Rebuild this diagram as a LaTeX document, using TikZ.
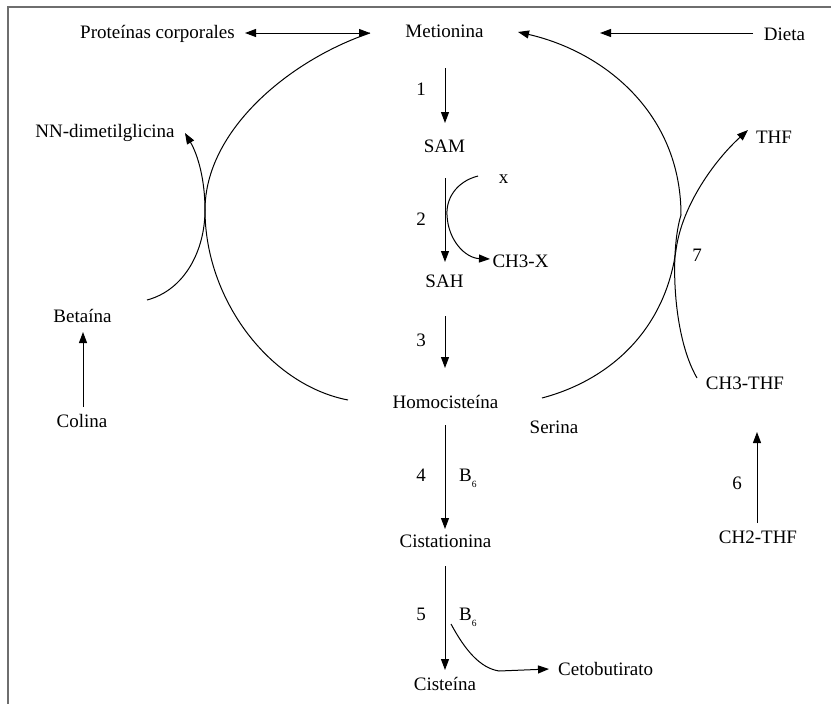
\documentclass[tikz,border=0pt]{standalone}
\usepackage{fontspec}
\setmainfont{Liberation Serif}
\usetikzlibrary{arrows.meta}
\definecolor{framegray}{HTML}{6E6E6E}
\newcommand{\bsix}{B\raisebox{-6pt}{\fontsize{9.5}{10}\selectfont 6}}
\begin{document}
\begin{tikzpicture}[x=1pt,y=-1pt,
  lbl/.style={font=\fontsize{19}{22}\selectfont, inner sep=0pt, anchor=base},
  ln/.style={line width=1pt},
  arr/.style={line width=1pt, -{Triangle[length=11pt,width=8pt]}},
  darr/.style={line width=1pt, {Triangle[length=11pt,width=8pt]}-{Triangle[length=11pt,width=8pt]}},
  frame/.style={line width=2pt, draw=framegray}]
\useasboundingbox (0,0) rectangle (831,704);
\draw[frame] (831,7) -- (8,7) -- (8,704);

% labels
\node[lbl] (prot) at (157.5,38) {Proteínas corporales};
\node[lbl] (met) at (444.5,37) {Metionina};
\node[lbl] (dieta) at (784.5,40) {Dieta};
\node[lbl] (sam) at (444.5,152) {SAM};
\node[lbl] (thf) at (774,143) {THF};
\node[lbl] (dmg) at (105,137) {NN-dimetilglicina};
\node[lbl] (x) at (503.5,183) {x};
\node[lbl] (n1) at (421,95) {1};
\node[lbl] (n2) at (421,225) {2};
\node[lbl] (n3) at (421,346) {3};
\node[lbl] (ch3x) at (520.5,267) {CH3-X};
\node[lbl] (sah) at (444.5,287) {SAH};
\node[lbl] (n7) at (697,261) {7};
\node[lbl] (hcy) at (445.5,408) {Homocisteína};
\node[lbl] (ch3thf) at (745,389) {CH3-THF};
\node[lbl] (ser) at (554,433) {Serina};
\node[lbl] (bet) at (82.5,322) {Betaína};
\node[lbl] (col) at (82,427) {Colina};
\node[lbl] (n4) at (421,481) {4};
\node[lbl, anchor=base west] (b6a) at (459,481) {\bsix};
\node[lbl] (cist) at (445.5,547) {Cistationina};
\node[lbl] (n5) at (421,620) {5};
\node[lbl, anchor=base west] (b6b) at (459,620) {\bsix};
\node[lbl] (cys) at (445,690) {Cisteína};
\node[lbl, anchor=base west] (ceto) at (558,675) {Cetobutirato};
\node[lbl] (ch2thf) at (758,543) {CH2-THF};
\node[lbl] (n6) at (737,489) {6};

% connector end points
\coordinate (p1) at (245,33);
\coordinate (p2) at (370,33);
\coordinate (d1) at (753,33);
\coordinate (d2) at (600,33);
\coordinate (a1s) at (445,68);
\coordinate (a1e) at (445,123);
\coordinate (a2s) at (445,178);
\coordinate (a2e) at (445,262);
\coordinate (a3s) at (445,316);
\coordinate (a3e) at (445,368);
\coordinate (a4s) at (445,425);
\coordinate (a4e) at (445,529);
\coordinate (a5s) at (445,566);
\coordinate (a5e) at (445,670);
\coordinate (a6s) at (757,523);
\coordinate (a6e) at (757,432);
\coordinate (cs) at (83,407);
\coordinate (ce) at (83,332);
\coordinate (xs) at (478,176);
\coordinate (xm) at (447,215);
\coordinate (xe) at (490,259);
\coordinate (ks) at (451,624);
\coordinate (km) at (499,671);
\coordinate (ke) at (549,669);
\coordinate (hl) at (348,400);
\coordinate (lt) at (205,210);
\coordinate (bs) at (147,300);
\coordinate (be) at (185,133);
\coordinate (hr) at (542,398);
\coordinate (rm) at (676,250);
\coordinate (te) at (748,130);
\coordinate (ms) at (697,378);
\coordinate (mm) at (681,215);
\coordinate (me) at (518,32);

% straight arrows
\draw[darr] (p1) -- (p2);
\draw[arr] (d1) -- (d2);
\draw[arr] (a1s) -- (a1e);
\draw[arr] (a2s) -- (a2e);
\draw[arr] (a3s) -- (a3e);
\draw[arr] (a4s) -- (a4e);
\draw[arr] (a5s) -- (a5e);
\draw[arr] (a6s) -- (a6e);
\draw[arr] (cs) -- (ce);

% side curves
\draw[arr] (xs) .. controls (455,182) and (446,200) .. (xm)
  .. controls (448,240) and (465,258) .. (xe);
\draw[arr] (ks) .. controls (465,650) and (480,668) .. (km) -- (ke);

% left cycle
\draw[ln] (hl) .. controls (270,385) and (205,300) .. (lt)
  .. controls (205,130) and (290,60) .. (p2);
\draw[arr] (bs) .. controls (185,290) and (205,250) .. (lt)
  .. controls (205,180) and (198,155) .. (be);

% right cycle
\draw[arr] (hr) .. controls (610,380) and (665,330) .. (rm)
  .. controls (682,205) and (715,160) .. (te);
\draw[arr] (ms) .. controls (672,335) and (670,250) .. (mm)
  .. controls (681,114) and (605,52) .. (me);
\end{tikzpicture}
\end{document}
